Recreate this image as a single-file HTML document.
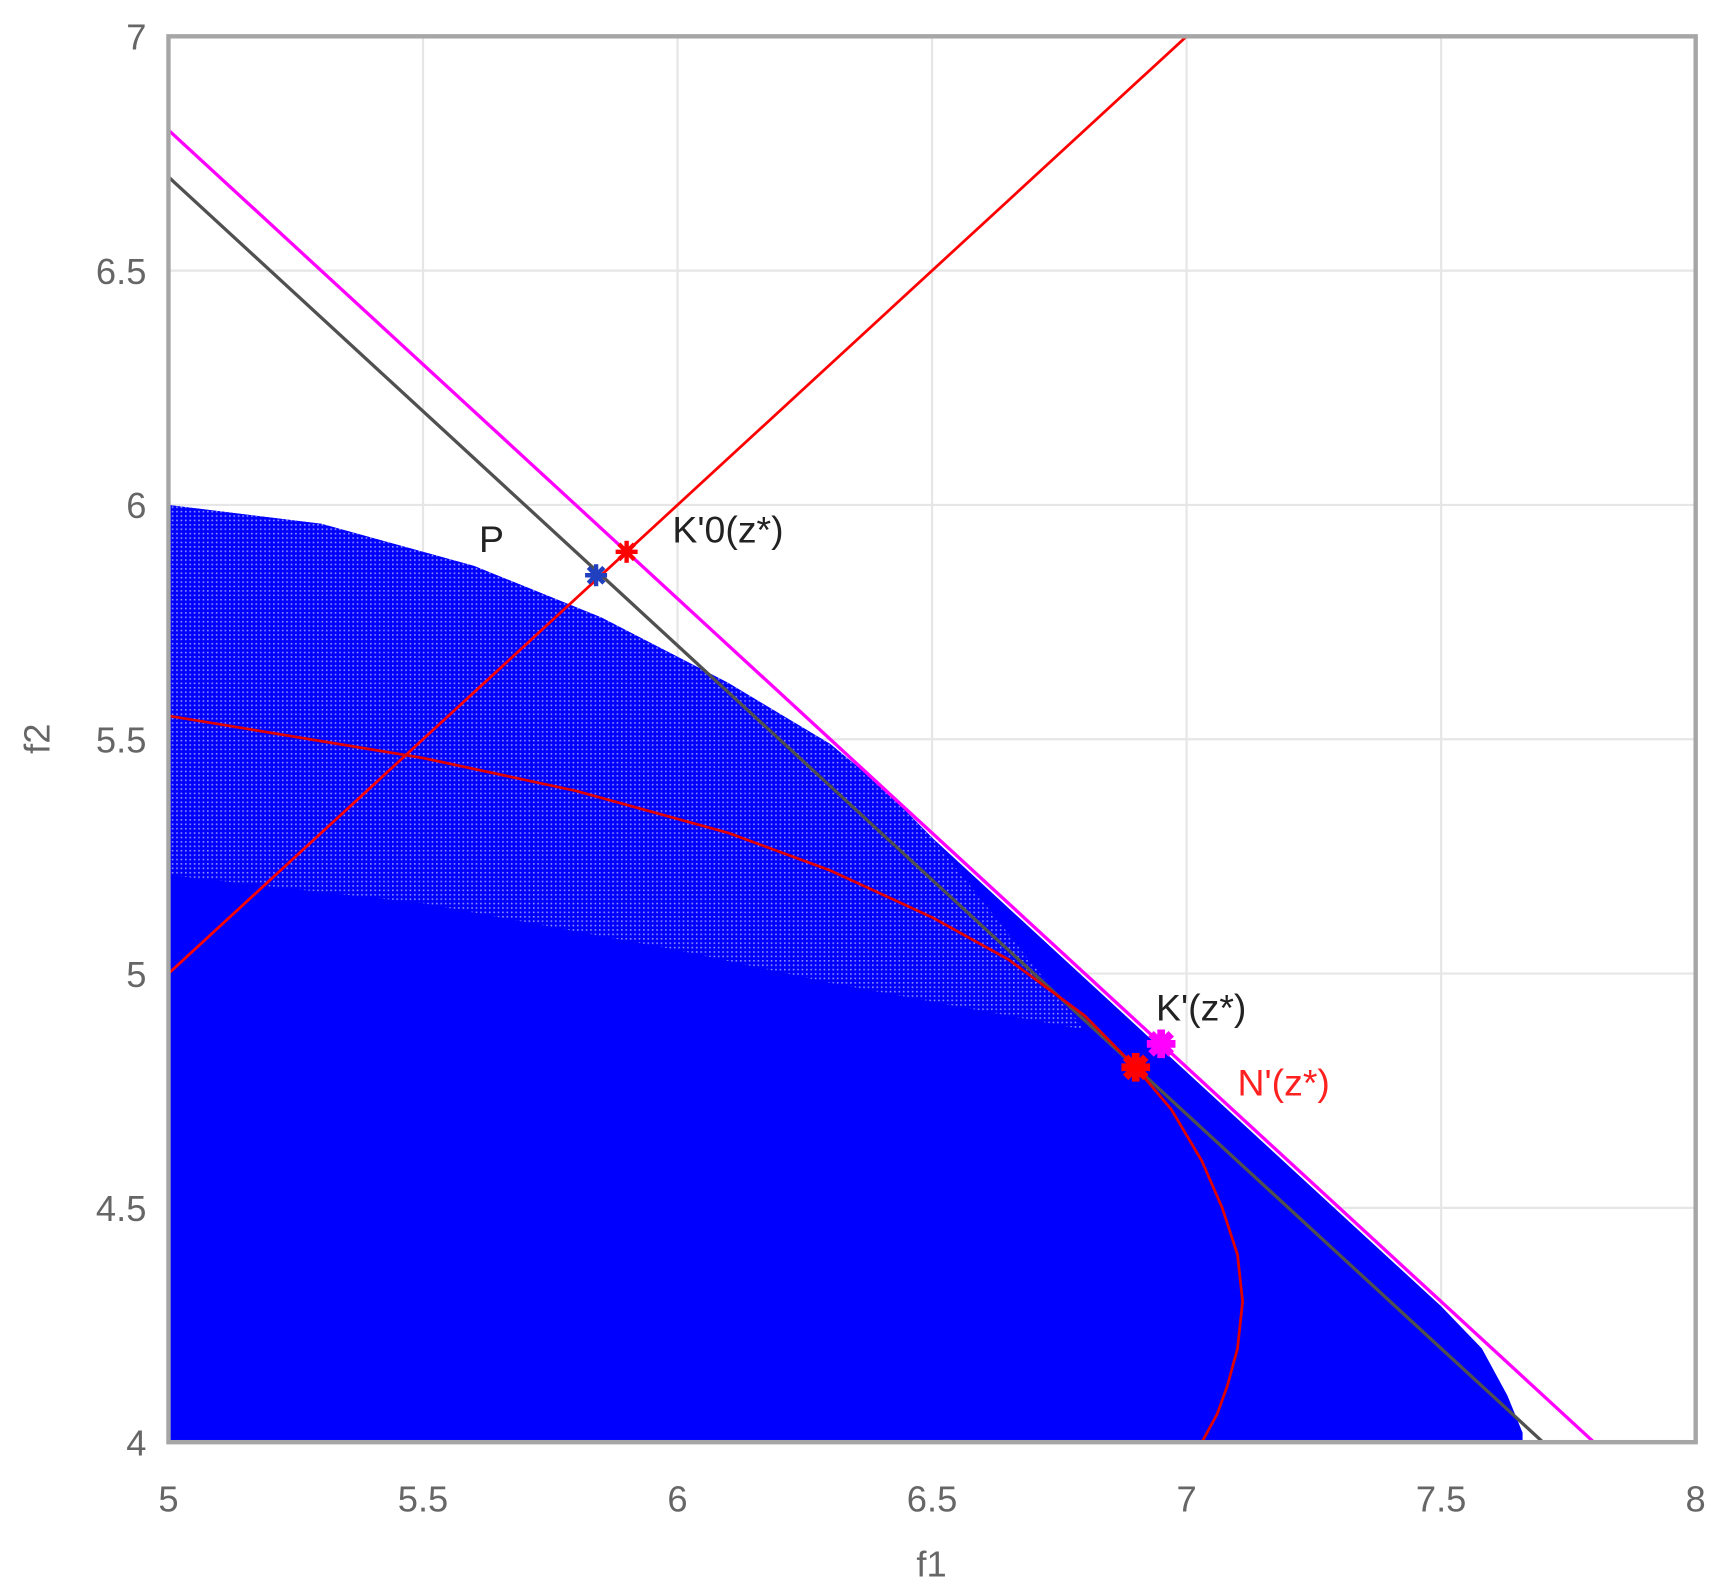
<!DOCTYPE html>
<html><head><meta charset="utf-8"><style>
html,body{margin:0;padding:0;background:#fff;}
svg{display:block;}
text{font-family:"Liberation Sans",sans-serif;}
</style></head><body>
<svg id="chart" width="1721" height="1593" viewBox="0 0 1563 1447" preserveAspectRatio="none" xmlns="http://www.w3.org/2000/svg">
<defs>
<pattern id="hatch" width="4" height="4" patternUnits="userSpaceOnUse">
<rect width="4" height="4" fill="#0000ff"/>
<rect width="1.5" height="1.5" fill="#8c8cff"/>
</pattern>
<clipPath id="clip"><rect x="153" y="33" width="1387" height="1277"/></clipPath>
</defs>
<rect x="153" y="33" width="1387" height="1277" fill="#fff"/>
<g id="grid"></g>
<g id="marks" clip-path="url(#clip)"></g>
<rect x="153" y="33" width="1387" height="1277" fill="none" stroke="#a6a6a6" stroke-width="4"/>
<g id="ticks"></g>
<text x="846" y="1432" font-size="33" fill="#666" text-anchor="middle">f1</text>
<text x="45" y="671" font-size="33" fill="#666" text-anchor="middle" transform="rotate(-90 45 671)">f2</text>
</svg>
<script>
const xTicks=[5,5.5,6,6.5,7,7.5,8];
const yTicks=[4,4.5,5,5.5,6,6.5,7];
const xTickLabels=["5","5.5","6","6.5","7","7.5","8"];
const yTickLabels=["4","4.5","5","5.5","6","6.5","7"];
// feasible region boundary (f1,f2)
const regionF1=[5,5.3,5.6,5.85,6.1,6.3,6.4,6.5,7.0,7.5,7.58,7.63,7.66,7.66,5];
const regionF2=[6.0,5.96,5.87,5.76,5.62,5.49,5.40,5.29,4.79,4.29,4.2,4.1,4.02,4,4];
// lighter hatched band lower edge
const bandF1=[5,5.5,6,6.3,6.6,6.8];
const bandF2=[5.21,5.15,5.05,4.98,4.92,4.88];
const magentaF1=[5,7.8], magentaF2=[6.8,4.0];
const grayF1=[5,7.7], grayF2=[6.7,4.0];
const redLineF1=[5,7], redLineF2=[5,7];
const curveF1=[5,5.5,5.8,6.1,6.3,6.5,6.65,6.8,6.9,6.97,7.03,7.07,7.1,7.11,7.1,7.08,7.06,7.03];
const curveF2=[5.55,5.46,5.39,5.3,5.22,5.12,5.03,4.91,4.8,4.71,4.6,4.5,4.4,4.3,4.2,4.12,4.06,4.0];
const markersF1=[5.84,5.9,6.95,6.9];
const markersF2=[5.85,5.9,4.85,4.8];
const markerColors=["#2040c0","#ff0000","#ff00ff","#ff0000"];
const markerNames=["marker-p","marker-k0","marker-k","marker-n"];
const labelText=["P","K'0(z*)","K'(z*)","N'(z*)"];
const labelF1=[5.61,5.99,6.94,7.1];
const labelF2=[5.9,5.92,4.9,4.74];
const labelColors=["#222","#222","#222","#ff2020"];

const X=v=>153+(v-5)*1387/3;
const Y=v=>1310-(v-4)*1277/3;
const NS="http://www.w3.org/2000/svg";
function mk(tag,parent,attrs){const e=document.createElementNS(NS,tag);for(const k in attrs)e.setAttribute(k,attrs[k]);parent.appendChild(e);return e;}
const grid=document.getElementById('grid'),marks=document.getElementById('marks'),ticks=document.getElementById('ticks');
xTicks.forEach((t,i)=>{
 const l=mk('line',grid,{x1:X(t),x2:X(t),y1:33,y2:1310,stroke:'#e6e6e6','stroke-width':2});
 
 
 const tx=mk('text',ticks,{x:X(t),y:1373,'font-size':33,fill:'#666','text-anchor':'middle'});
 tx.textContent=xTickLabels[i];
 
 
});
yTicks.forEach((t,i)=>{
 const l=mk('line',grid,{x1:153,x2:1540,y1:Y(t),y2:Y(t),stroke:'#e6e6e6','stroke-width':2});
 
 
 const tx=mk('text',ticks,{x:133,y:Y(t)+12,'font-size':33,fill:'#666','text-anchor':'end'});
 tx.textContent=yTickLabels[i];
 
 
});
function pts(a,b){return a.map((v,i)=>X(v)+','+Y(b[i])).join(' ');}
const reg=mk('polygon',marks,{points:pts(regionF1,regionF2),fill:'#0000ff'});


const upF1=regionF1.slice(0,8), upF2=regionF2.slice(0,8);
const bandPts=pts(upF1,upF2)+' '+pts(bandF1.slice().reverse(),bandF2.slice().reverse());
const band=mk('polygon',marks,{points:bandPts,fill:'url(#hatch)'});


const ml=mk('polyline',marks,{points:pts(magentaF1,magentaF2),stroke:'#ff00ff','stroke-width':3,fill:'none'});


const gl=mk('polyline',marks,{points:pts(grayF1,grayF2),stroke:'#505050','stroke-width':3,fill:'none'});


const rl=mk('polyline',marks,{points:pts(redLineF1,redLineF2),stroke:'#ff0000','stroke-width':2.5,fill:'none'});


const rc=mk('polyline',marks,{points:pts(curveF1,curveF2),stroke:'#e00000','stroke-width':2.5,fill:'none','stroke-linejoin':'round'});


markersF1.forEach((v,i)=>{
 const g=mk('g',marks,{});
 
 
 const cx=X(v),cy=Y(markersF2[i]);
 const r=i>=2?13:10;
 [0,45,90,135].forEach(a=>{const rad=a*Math.PI/180;mk('line',g,{x1:cx-r*Math.cos(rad),y1:cy-r*Math.sin(rad),x2:cx+r*Math.cos(rad),y2:cy+r*Math.sin(rad),stroke:markerColors[i],'stroke-width':i>=2?7:4});});
});
labelText.forEach((t,i)=>{
 const tx=mk('text',document.getElementById('chart'),{x:X(labelF1[i]),y:Y(labelF2[i]),'font-size':34,fill:labelColors[i]});
 tx.textContent=t;
 
 
});
</script>
</body></html>
